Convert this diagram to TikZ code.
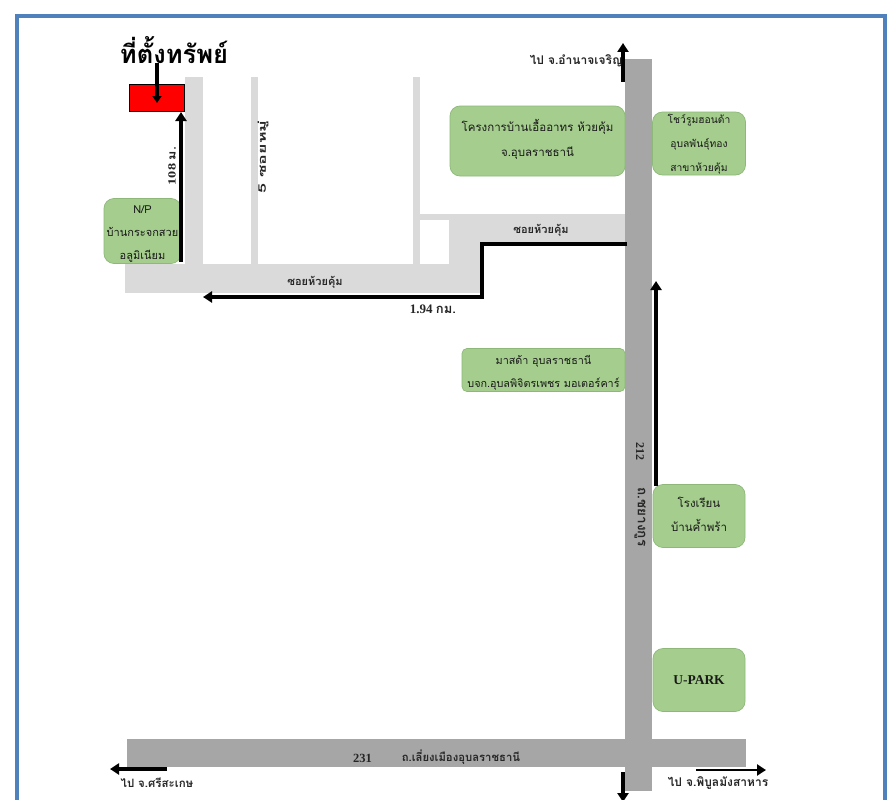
\documentclass[tikz,border=0pt]{standalone}
\usepackage{graphicx}
\usepackage{fontspec}
\setmainfont{Liberation Serif}
\newfontfamily\thaifont[Script=Thai]{Loma}
\usetikzlibrary{arrows.meta}
\definecolor{frameblue}{HTML}{4F81BD}
\definecolor{minorroad}{HTML}{DADADA}
\definecolor{mainroad}{HTML}{A6A6A6}
\definecolor{landmark}{HTML}{A5CE8E}
\definecolor{landmarkedge}{HTML}{8DB87A}
\newcommand{\shifted}[3]{\raisebox{#1}[\height][\depth]{\parbox{#2}{\centering #3}}}
\tikzset{
  x=1pt,y=-1pt,
  lmbox/.style={draw=landmarkedge,line width=.7pt,fill=landmark,rounded corners=10pt,inner sep=0pt,align=center,text=black!90},
  roadlabel/.style={font=\thaifont\bfseries\fontsize{11}{13}\selectfont,text=black!85,inner sep=0pt},
  route/.style={line width=3.2pt,draw=black,-{Triangle[length=9pt,width=11pt]}},
}
\begin{document}
\begin{tikzpicture}
\useasboundingbox (0,0) rectangle (889,800);
\fill[white] (0,0) rectangle (889,800);
\draw[frameblue,line width=4pt] (16.5,830) -- (16.5,16) -- (884.5,16) -- (884.5,830);
% minor roads
\fill[minorroad] (185,77) rectangle (203,265);
\fill[minorroad] (251,77) rectangle (258,265);
\fill[minorroad] (413,77) rectangle (420,265);
\fill[minorroad] (125,264) rectangle (482,293);
\fill[minorroad] (449,214) rectangle (627,242);
\fill[minorroad] (449,242) rectangle (482,293);
\fill[minorroad] (413,214) rectangle (449,220);
% main roads
\fill[mainroad] (625,59) rectangle (652,791);
\fill[mainroad] (127,739) rectangle (746,767);
% landmarks
\node[lmbox,minimum width=77pt,minimum height=65pt,font=\thaifont\fontsize{11}{23}\selectfont] (np) at (142.5,231) {\shifted{-2.5pt}{76pt}{N/P\\บ้านกระจกสวย\\อลูมิเนียม}};
\node[lmbox,minimum width=175pt,minimum height=70pt,font=\thaifont\fontsize{11.5}{25}\selectfont] (project) at (537.5,141) {\shifted{2pt}{170pt}{โครงการบ้านเอื้ออาทร ห้วยคุ้ม\\จ.อุบลราชธานี}};
\node[lmbox,minimum width=93pt,minimum height=63pt,font=\thaifont\fontsize{10.3}{24}\selectfont] (showroom) at (699,143.5) {\shifted{-1pt}{90pt}{โชว์รูมฮอนด้า\\อุบลพันธุ์ทอง\\สาขาห้วยคุ้ม}};
\node[lmbox,rounded corners=5pt,minimum width=163pt,minimum height=43pt,font=\thaifont\fontsize{10.8}{23}\selectfont] (mazda) at (543.5,370) {\shifted{-3pt}{160pt}{มาสด้า อุบลราชธานี\\บจก.อุบลพิจิตรเพชร มอเตอร์คาร์}};
\node[lmbox,minimum width=92pt,minimum height=63pt,font=\thaifont\fontsize{11.5}{24}\selectfont] (school) at (699,516) {\shifted{2pt}{88pt}{โรงเรียน\\บ้านค้ำพร้า}};
\node[lmbox,font=\bfseries\fontsize{13.5}{15}\selectfont,minimum width=92pt,minimum height=63pt] (upark) at (699,680) {U-PARK};
% property
\node[draw=black,line width=1pt,fill=red,minimum width=55pt,minimum height=26pt,inner sep=0pt] (prop) at (156.5,98) {};
\node[font=\thaifont\bfseries\fontsize{25.5}{28}\selectfont,inner sep=0pt] (title) at (174,50) {ที่ตั้งทรัพย์};
% routes
\coordinate (propin) at (157,103);
\coordinate (titlefoot) at (157,63);
\draw[route,-{Triangle[length=7pt,width=9pt]}] (titlefoot) -- (propin);
\coordinate (a1) at (181,262);
\coordinate (a2) at (181,112);
\draw[route] (a1) -- (a2);
\coordinate (b0) at (627,244);
\coordinate (b1) at (482,244);
\coordinate (b2) at (482,297);
\coordinate (b3) at (203,297);
\draw[route] (b0) -- (b1) -- (b2) -- (b3);
\coordinate (c0) at (656,486);
\coordinate (c1) at (656,281);
\draw[route] (c0) -- (c1);
\coordinate (d0) at (623,82);
\coordinate (d1) at (623,43);
\draw[route] (d0) -- (d1);
\coordinate (f0) at (623,772);
\coordinate (f1) at (623,802);
\draw[route] (f0) -- (f1);
\coordinate (g0) at (167,769);
\coordinate (g1) at (110,769);
\draw[route] (g0) -- (g1);
\coordinate (h0) at (696,770);
\coordinate (h1) at (766,770);
\draw[route,line width=2.4pt] (h0) -- (h1);
% labels
\node[roadlabel,font=\bfseries\fontsize{11}{13}\selectfont,rotate=90] (l108) at (172,166) {\scalebox{1.3}[1]{108 {\thaifont ม.}}};
\node[roadlabel,font=\thaifont\bfseries\fontsize{10.5}{13}\selectfont,rotate=90] (l5) at (263,157) {\scalebox{1.7}[1]{5 ซอยหมู่}};
\node[roadlabel] (s1) at (315,282) {ซอยห้วยคุ้ม};
\node[roadlabel] (s2) at (541,230) {ซอยห้วยคุ้ม};
\node[roadlabel,font=\bfseries\fontsize{13}{14}\selectfont] (km) at (433,309) {1.94 {\thaifont กม.}};
\node[roadlabel,font=\bfseries\fontsize{12}{13}\selectfont,rotate=-90] (r212) at (640,451) {212};
\node[roadlabel,font=\thaifont\bfseries\fontsize{13.5}{15}\selectfont,rotate=-90] (rname) at (640,517) {ถ.ชยางกูร};
\node[roadlabel,font=\bfseries\fontsize{12.5}{14}\selectfont] (r231) at (362.5,758) {231};
\node[roadlabel,font=\thaifont\bfseries\fontsize{11.3}{13}\selectfont] (rnm) at (461,757) {ถ.เลี่ยงเมืองอุบลราชธานี};
\node[roadlabel,font=\thaifont\bfseries\fontsize{12}{14}\selectfont] (n) at (576,61) {ไป จ.อำนาจเจริญ};
\node[roadlabel,font=\thaifont\bfseries\fontsize{11.5}{14}\selectfont] (w) at (157,783) {ไป จ.ศรีสะเกษ};
\node[roadlabel,font=\thaifont\bfseries\fontsize{12}{14}\selectfont] (e) at (718,783) {ไป จ.พิบูลมังสาหาร};
\end{tikzpicture}
\end{document}
